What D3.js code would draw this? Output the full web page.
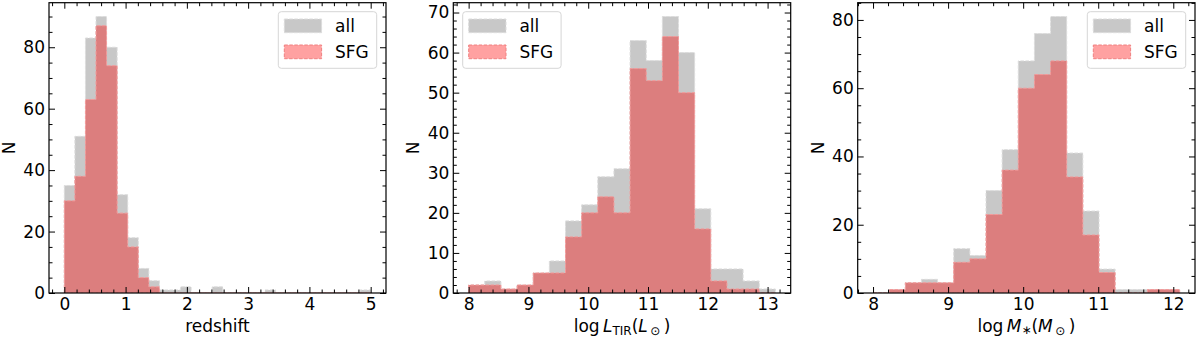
<!DOCTYPE html>
<html>
<head>
<meta charset="utf-8">
<script src="https://cdn.jsdelivr.net/npm/d3@7"></script>
<style>
  body { margin: 0; background: #fff; }
  text { font-family: "DejaVu Sans", sans-serif; }
</style>
</head>
<body>
<div id="chart"></div>
<script>
// ---- data ----

// redshift: 29 equal bins between 0 and 5
const zRange = [0, 5];
const zAll = [35, 51, 83, 90, 80, 32, 18, 8, 4, 1, 1, 2, 0, 0, 2, 0, 0, 0, 0, 1, 0, 0, 0, 0, 0, 0, 0, 0, 1];
const zSfg = [30, 38, 63, 87, 74, 26, 15, 5, 2, 0, 0, 0, 0, 0, 0, 0, 0, 0, 0, 0, 0, 0, 0, 0, 0, 0, 0, 0, 0];
const zTicks = [0, 1, 2, 3, 4, 5];
const zYTicks = [0, 20, 40, 60, 80];

// log L_TIR: 19 bins between 8.0 and 13.13
const lRange = [8.0, 13.13];
const lAll = [2, 3, 1, 2, 5, 8, 18, 22, 29, 31, 63, 58, 69, 60, 21, 6, 6, 3, 1];
const lSfg = [2, 2, 1, 2, 5, 5, 14, 20, 24, 20, 56, 53, 64, 50, 16, 3, 1, 1, 0];
const lTicks = [8, 9, 10, 11, 12, 13];
const lYTicks = [0, 10, 20, 30, 40, 50, 60, 70];

// log M*: 19 bins between 8.0 and 12.085
const mRange = [8.0, 12.085];
const mAll = [0, 1, 3, 4, 3, 13, 11, 30, 42, 68, 76, 81, 41, 24, 7, 1, 1, 1, 1];
const mSfg = [0, 1, 3, 3, 3, 9, 10, 23, 36, 60, 64, 68, 34, 17, 6, 0, 0, 1, 1];
const mTicks = [8, 9, 10, 11, 12];
const mYTicks = [0, 20, 40, 60, 80];

const seriesNames = ["all", "SFG"];

// ---- layout ----
const W = 1200, H = 339;
const axTop = 2.7, axBottom = 293;
const fontSize = 17;

const grayFill = "#c8c8c8";
const redFill = "red", redAlpha = 0.37;

const panels = [
  {left: 49, right: 386, range: zRange, all: zAll, sfg: zSfg, xticks: zTicks, xminor: 0.2,
   yticks: zYTicks, yminor: 5, legend: "right", xlabel: "redshift"},
  {left: 453.3, right: 790.7, range: lRange, all: lAll, sfg: lSfg, xticks: lTicks, xminor: 0.2,
   yticks: lYTicks, yminor: 2, legend: "left", xlabel: "L"},
  {left: 857.7, right: 1195, range: mRange, all: mAll, sfg: mSfg, xticks: mTicks, xminor: 0.2,
   yticks: mYTicks, yminor: 5, legend: "right", xlabel: "M"}
];

const svg = d3.select("#chart").append("svg")
  .attr("width", W)
  .attr("height", H);

panels.forEach(p => drawPanel(p));

function stepPoints(edges, counts) {
  let pts = [[edges[0], 0]];
  counts.forEach((c, i) => {
    pts.push([edges[i], c]);
    pts.push([edges[i + 1], c]);
  });
  pts.push([edges[edges.length - 1], 0]);
  return pts;
}

function drawPanel(p) {
  let g = svg.append("g");

  let n = p.all.length;
  let span = p.range[1] - p.range[0];
  let edges = d3.range(n + 1).map(i => p.range[0] + i * span / n);

  let x = d3.scaleLinear()
    .domain([p.range[0] - 0.05 * span, p.range[1] + 0.05 * span])
    .range([p.left, p.right]);
  let y = d3.scaleLinear()
    .domain([0, d3.max(p.all) * 1.05])
    .range([axBottom, axTop]);

  let line = d3.line().x(d => x(d[0])).y(d => y(d[1]));

  // clip to axes
  let clipId = "clip" + Math.round(p.left);
  g.append("clipPath").attr("id", clipId)
    .append("rect")
    .attr("x", p.left).attr("y", axTop)
    .attr("width", p.right - p.left).attr("height", axBottom - axTop);

  let plot = g.append("g").attr("clip-path", `url(#${clipId})`);

  // all (gray stepfilled)
  plot.append("path")
    .attr("d", line(stepPoints(edges, p.all)) + "Z")
    .attr("fill", grayFill)
    .attr("stroke", "#dcdcdc")
    .attr("stroke-width", 1)
    .attr("stroke-dasharray", "3.5,1.5");

  // SFG (red stepfilled, dashed edge)
  plot.append("path")
    .attr("d", line(stepPoints(edges, p.sfg)) + "Z")
    .attr("fill", redFill)
    .attr("fill-opacity", redAlpha)
    .attr("stroke", "#f39a9a")
    .attr("stroke-width", 1)
    .attr("stroke-dasharray", "3.5,1.5");

  // minor tick values
  let xd = x.domain(), yd = y.domain();
  let xMinor = d3.range(Math.ceil(xd[0] / p.xminor) * p.xminor, xd[1], p.xminor)
    .filter(v => Math.abs(v - Math.round(v)) > 1e-6);
  let yMinor = d3.range(0, yd[1], p.yminor)
    .filter(v => !p.yticks.includes(Math.round(v * 1000) / 1000));

  let axes = [
    {ax: d3.axisBottom(x).tickValues(p.xticks).tickSize(-6).tickPadding(4.5).tickFormat(d3.format("d")), t: `translate(0,${axBottom})`},
    {ax: d3.axisBottom(x).tickValues(xMinor).tickSize(-3.5).tickFormat(""), t: `translate(0,${axBottom})`},
    {ax: d3.axisTop(x).tickValues(p.xticks).tickSize(-6).tickFormat(""), t: `translate(0,${axTop})`},
    {ax: d3.axisTop(x).tickValues(xMinor).tickSize(-3.5).tickFormat(""), t: `translate(0,${axTop})`},
    {ax: d3.axisLeft(y).tickValues(p.yticks).tickSize(-6).tickPadding(4).tickFormat(d3.format("d")), t: `translate(${p.left},0)`},
    {ax: d3.axisLeft(y).tickValues(yMinor).tickSize(-3.5).tickFormat(""), t: `translate(${p.left},0)`},
    {ax: d3.axisRight(y).tickValues(p.yticks).tickSize(-6).tickFormat(""), t: `translate(${p.right},0)`},
    {ax: d3.axisRight(y).tickValues(yMinor).tickSize(-3.5).tickFormat(""), t: `translate(${p.right},0)`}
  ];

  axes.forEach(a => {
    let ag = g.append("g").attr("transform", a.t).call(a.ax);
    ag.select(".domain").remove();
    ag.selectAll("line").attr("stroke", "#000").attr("stroke-width", 1);
    ag.selectAll("text")
      .attr("fill", "#000")
      .style("font-family", "DejaVu Sans")
      .style("font-size", fontSize + "px");
  });

  // frame
  g.append("rect")
    .attr("x", p.left).attr("y", axTop)
    .attr("width", p.right - p.left).attr("height", axBottom - axTop)
    .attr("fill", "none")
    .attr("stroke", "#000")
    .attr("stroke-width", 1.2);

  // y label
  g.append("text")
    .attr("transform", `translate(${p.left - 34},${(axTop + axBottom) / 2}) rotate(-90)`)
    .attr("text-anchor", "middle")
    .style("font-size", fontSize + "px")
    .text("N");

  // x label
  let xl = g.append("text")
    .attr("x", (p.left + p.right) / 2)
    .attr("y", 331.5)
    .attr("text-anchor", "middle")
    .style("font-size", fontSize + "px");

  if (p.xlabel === "redshift") {
    xl.text("redshift");
  } else {
    let sub = p.xlabel === "L" ? "TIR" : "\u2217";
    let subShift = p.xlabel === "L" ? 3.5 : 2.5;
    xl.append("tspan").text("log\u2009");
    xl.append("tspan").style("font-style", "italic").text(p.xlabel);
    xl.append("tspan").attr("dy", subShift).style("font-size", "12px").text(sub);
    xl.append("tspan").attr("dy", -subShift).text("(");
    xl.append("tspan").style("font-style", "italic").text(p.xlabel);
    xl.append("tspan").attr("dy", 3).style("font-size", "12px").text("\u2009\u2299");
    xl.append("tspan").attr("dy", -3).text("\u2009)");
  }

  // legend
  let lw = 98.4, lh = 56.6;
  let lx = p.legend === "right" ? p.right - 9.3 - lw : p.left + 9.4;
  let ly = axTop + 9;
  let lg = g.append("g").attr("transform", `translate(${lx},${ly})`);
  lg.append("rect")
    .attr("width", lw).attr("height", lh)
    .attr("rx", 3)
    .attr("fill", "#fff").attr("fill-opacity", 0.8)
    .attr("stroke", "#d6d6d6").attr("stroke-width", 1);

  seriesNames.forEach((name, i) => {
    let yy = 7.3 + i * 26;
    let r = lg.append("rect")
      .attr("x", 6).attr("y", yy)
      .attr("width", 37.3).attr("height", 13.7);
    if (i === 0) {
      r.attr("fill", grayFill).attr("stroke", "#dcdcdc").attr("stroke-dasharray", "3.5,1.5");
    } else {
      r.attr("fill", redFill).attr("fill-opacity", redAlpha)
        .attr("stroke", "#f08080").attr("stroke-dasharray", "3.5,1.5");
    }
    lg.append("text")
      .attr("x", 56.7).attr("y", yy + 6.85)
      .attr("dominant-baseline", "central")
      .style("font-size", fontSize + "px")
      .text(name);
  });
}
</script>
</body>
</html>
